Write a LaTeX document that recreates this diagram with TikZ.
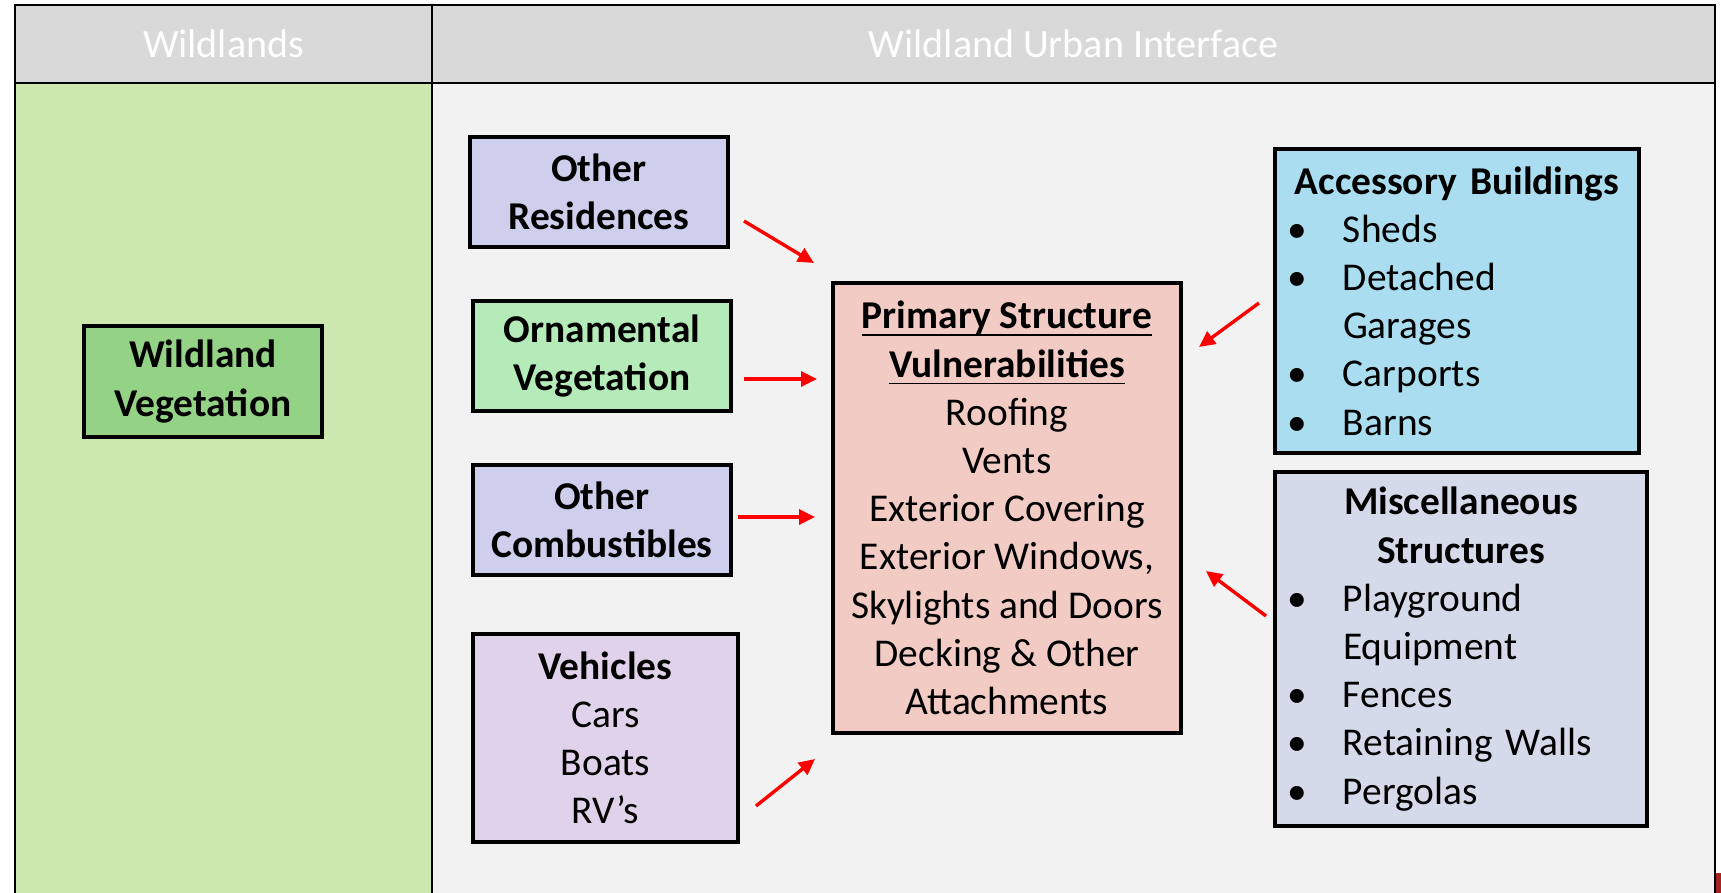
\documentclass[tikz,border=0pt]{standalone}
\usepackage{fontspec}
\setmainfont{Carlito}
\usetikzlibrary{arrows.meta}
\definecolor{hdrgray}{RGB}{217,217,217}
\definecolor{wildbg}{RGB}{204,232,174}
\definecolor{wuibg}{RGB}{242,242,242}
\definecolor{wvgreen}{RGB}{148,210,134}
\definecolor{lav}{RGB}{205,207,236}
\definecolor{ornam}{RGB}{181,234,185}
\definecolor{vehic}{RGB}{224,210,234}
\definecolor{primc}{RGB}{242,203,197}
\definecolor{accc}{RGB}{171,221,240}
\definecolor{miscc}{RGB}{213,218,234}
\definecolor{artred}{RGB}{165,35,35}
\newcommand\myul[1]{\setbox0\hbox{#1}\rlap{\rule[-3.7pt]{\wd0}{0.9pt}}\box0}
\newcommand\mybul[1]{\makebox[28pt][l]{\textbullet}#1}
\newcommand\mycont[1]{\hspace*{28pt}#1}
\begin{document}
\begin{tikzpicture}[x=0.5pt,y=-0.5pt,
  boxnode/.style={draw=black,line width=2pt,inner sep=0pt,align=center,
    font=\fontsize{19.7pt}{24.1pt}\selectfont},
  listnode/.style={draw=black,line width=2pt,inner xsep=6pt,inner ysep=0pt,align=left,
    font=\fontsize{19.7pt}{24.1pt}\selectfont},
  hdrtext/.style={text=white,inner sep=0pt,font=\fontsize{20pt}{24pt}\selectfont},
  redarrow/.style={draw=red,line width=1.7pt,-{Triangle[length=8pt,width=7.5pt]}}]
\useasboundingbox (0,0) rectangle (1721,893);
\fill[white] (0,0) rectangle (1721,893);
\fill[hdrgray] (15,5.5) rectangle (1715,83);
\fill[wildbg] (15,83) rectangle (432,893);
\fill[wuibg] (432,83) rectangle (1715,893);
\draw[line width=1pt] (15,893) -- (15,5.5) -- (1715,5.5) -- (1715,893);
\draw[line width=1pt] (15,83) -- (1715,83);
\draw[line width=1pt] (432,5.5) -- (432,893);
\fill[artred] (1716,873) rectangle (1721,893);

\node[hdrtext] (hwild) at (223.5,44) {Wildlands};
\node[hdrtext] (hwui) at (1073.5,44) {Wildland Urban Interface};

\node[boxnode,fill=wvgreen,minimum width=119pt,minimum height=55.5pt,font=\fontsize{19.7pt}{24.1pt}\selectfont\bfseries]
  (wv) at (203,381.5) {Wildland\\Vegetation};
\node[boxnode,fill=lav,minimum width=129pt,minimum height=55pt,font=\fontsize{19.7pt}{24.1pt}\selectfont\bfseries]
  (orr) at (599,192) {Other\\Residences};
\node[boxnode,fill=ornam,minimum width=129pt,minimum height=55pt,font=\fontsize{19.7pt}{24.1pt}\selectfont\bfseries]
  (orn) at (602,356) {Ornamental\\Vegetation};
\node[boxnode,fill=lav,minimum width=129pt,minimum height=55pt,font=\fontsize{19.7pt}{24.1pt}\selectfont\bfseries]
  (comb) at (602,520) {Other\\Combustibles};
\node[boxnode,fill=vehic,minimum width=132.5pt,minimum height=104pt]
  (veh) at (605.5,738) {\textbf{Vehicles}\\Cars\\Boats\\RV’s};
\node[boxnode,fill=primc,minimum width=174pt,minimum height=225pt]
  (prim) at (1007,508) {\myul{\textbf{Primary Structure}}\\\myul{\textbf{Vulnerabilities}}\\Roofing\\Vents\\Exterior Covering\\Exterior Windows,\\Skylights and Doors\\Decking \& Other\\Attachments};
\node[listnode,fill=accc,text width=170pt,minimum width=182pt,minimum height=152pt]
  (acc) at (1457,301) {\makebox[\hsize]{\bfseries Accessory Buildings}\\
  \mybul{Sheds}\\\mybul{Detached}\\\mycont{Garages}\\\mybul{Carports}\\\mybul{Barns}};
\node[listnode,fill=miscc,text width=174pt,minimum width=186pt,minimum height=177pt]
  (misc) at (1461,649) {\makebox[\hsize]{\bfseries Miscellaneous}\\
  \makebox[\hsize]{\bfseries Structures}\\
  \mybul{Playground}\\\mycont{Equipment}\\\mybul{Fences}\\\mybul{Retaining Walls}\\\mybul{Pergolas}};

\coordinate (a1s) at (744,221);  \coordinate (a1e) at (814,263);
\coordinate (a2s) at (744,379);  \coordinate (a2e) at (817,379);
\coordinate (a3s) at (738,517);  \coordinate (a3e) at (815,517);
\coordinate (a4s) at (756,806);  \coordinate (a4e) at (815,759);
\coordinate (a5s) at (1259,303); \coordinate (a5e) at (1199,347);
\coordinate (a6s) at (1266,616); \coordinate (a6e) at (1206,571);
\draw[redarrow] (a1s) -- (a1e);
\draw[redarrow] (a2s) -- (a2e);
\draw[redarrow] (a3s) -- (a3e);
\draw[redarrow] (a4s) -- (a4e);
\draw[redarrow] (a5s) -- (a5e);
\draw[redarrow] (a6s) -- (a6e);
\end{tikzpicture}
\end{document}
